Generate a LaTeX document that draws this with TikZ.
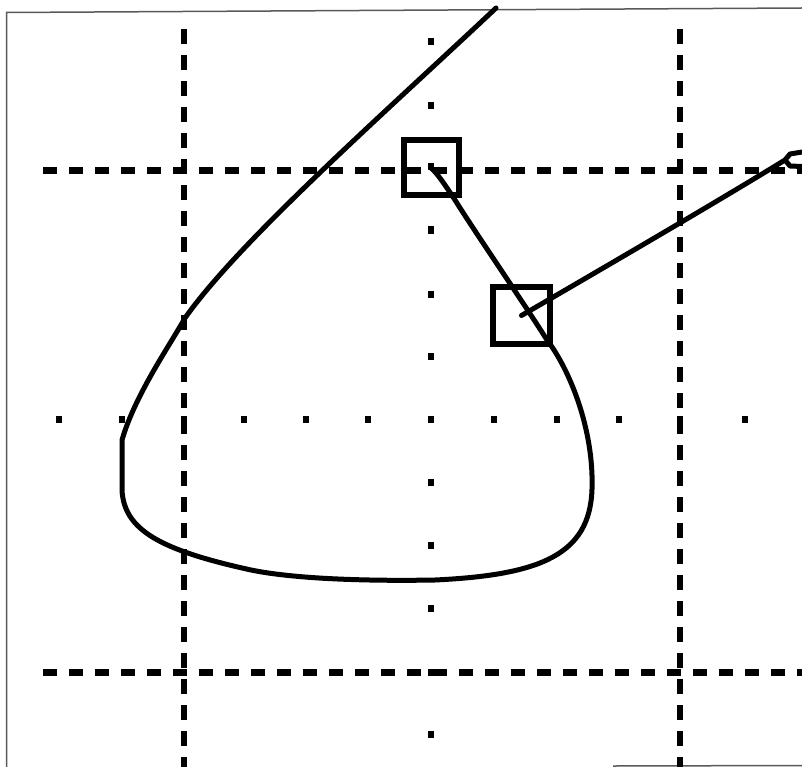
\documentclass[tikz,border=0pt]{standalone}
\begin{document}
\begin{tikzpicture}[x=1pt,y=-1pt,
  frameline/.style={draw=black!65, line width=1.5pt},
  curve/.style={line width=5pt, line join=round, line cap=round},
  vdash/.style={line width=6pt, dash pattern=on 15pt off 11pt},
  hdash/.style={line width=7pt, dash pattern=on 14pt off 12pt},
  marker/.style={draw, line width=6pt, inner sep=0pt, outer sep=0pt}]
\useasboundingbox (0,0) rectangle (802,767);
\clip (0,0) rectangle (802,767);
% frame
\draw[frameline] (6.5,767) -- (6.5,12.5) -- (802,8);
\draw[frameline] (613,766) -- (802,765.5);
% dashed grid lines
\draw[vdash] (184,29) -- (184,767);
\draw[vdash] (679.5,29) -- (679.5,767);
\draw[hdash] (43,171) -- (802,171);
\draw[hdash] (43,672) -- (802,672);
% dotted axes
\foreach \x in {59,122,184,244,306,368,431,494,557,619,680,745}
  \fill (\x-3,416) rectangle (\x+3,423);
\foreach \y in {42,106,167,230,294,356,419,482,545,608,672,734}
  \fill (428,\y-3.5) rectangle (434,\y+3.5);
% markers
\node[marker, minimum size=55pt] (box1) at (431,168) {};
\node[marker, minimum size=57pt] (box2) at (521.5,315.5) {};
% main curve
\draw[curve] (496,8) .. controls (390,108) and (240,240) .. (185,318)
  .. controls (170,345) and (135,395) .. (122,440)
  -- (122,490)
  .. controls (124,530) and (160,550) .. (251,570)
  .. controls (300,580) and (380,581) .. (435,580)
  .. controls (540,575) and (590,555) .. (592,489)
  .. controls (594,430) and (570,370) .. (547,340)
  .. controls (525,305) and (475,232) .. (455,200)
  .. controls (445,185) and (438,174) .. (box1.center);
% second line
\draw[curve] (box2.center) .. controls (600,270) and (720,200) .. (785,160);
\draw[curve] (802,152) -- (790,154) -- (785,160) -- (790,166) -- (802,166.5);
\end{tikzpicture}
\end{document}
